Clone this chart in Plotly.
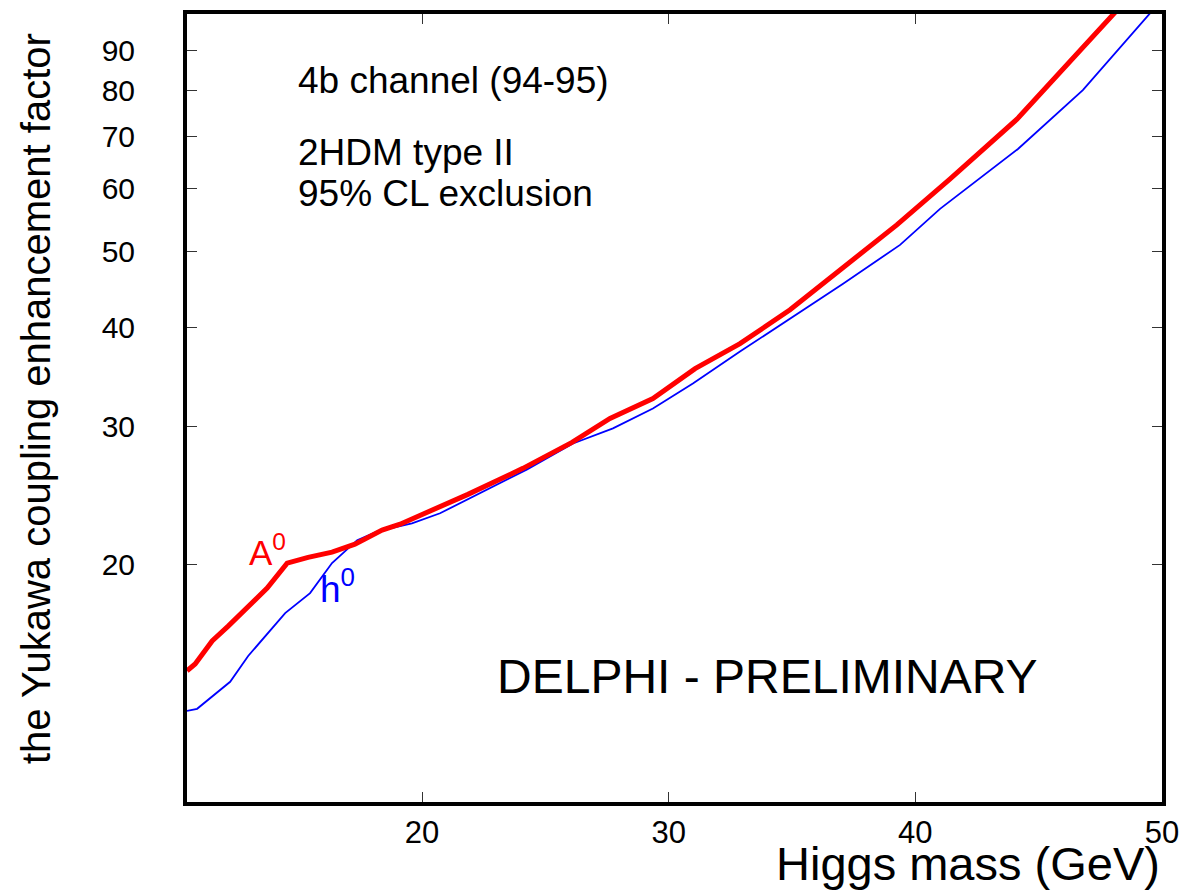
import math
import plotly.graph_objects as go

# A0 limit (red, thick)
a0_mass = [10.47, 10.80, 11.49, 12.14, 13.72, 14.53, 15.38, 16.35, 17.28, 18.38, 19.11,
           20.93, 21.86, 24.09, 26.08, 27.62, 29.36, 31.07, 32.89, 34.92, 37.07, 39.25,
           41.40, 44.12, 48.10]
a0_factor = [14.67, 14.97, 16.01, 16.72, 18.68, 20.10, 20.44, 20.75, 21.24, 22.13, 22.52,
             23.87, 24.57, 26.51, 28.60, 30.67, 32.51, 35.48, 38.16, 42.14, 47.77, 54.00,
             61.74, 73.53, 100.5]

# h0 limit (blue, thin)
h0_mass = [10.47, 10.88, 12.22, 12.95, 14.45, 15.46, 16.35, 17.37, 18.22, 19.59, 20.73,
           21.95, 24.26, 26.12, 27.74, 29.36, 30.98, 32.89, 34.92, 37.07, 39.38, 41.00,
           44.16, 46.79, 49.55]
h0_factor = [13.05, 13.13, 14.21, 15.32, 17.37, 18.41, 20.10, 21.49, 22.07, 22.58, 23.25,
             24.29, 26.43, 28.51, 29.79, 31.58, 33.96, 37.29, 41.05, 45.47, 50.93, 56.58,
             67.40, 80.07, 100.5]

x_ticks = [20, 30, 40, 50]
y_ticks = [20, 30, 40, 50, 60, 70, 80, 90]

FONT = "Liberation Sans, Arial, Helvetica, sans-serif"

fig = go.Figure()
fig.add_trace(go.Scatter(x=h0_mass, y=h0_factor, mode="lines",
                         line=dict(color="#0000ff", width=1.8), showlegend=False))
fig.add_trace(go.Scatter(x=a0_mass, y=a0_factor, mode="lines",
                         line=dict(color="#ff0000", width=5), showlegend=False))

ann = [
    dict(x=14.90, y=82.4, text="4b channel (94-95)", font=dict(size=37, color="black", family=FONT)),
    dict(x=14.90, y=66.8, text="2HDM type II", font=dict(size=37, color="black", family=FONT)),
    dict(x=14.90, y=59.1, text="95% CL exclusion", font=dict(size=37, color="black", family=FONT)),
    dict(x=22.95, y=14.45, text="DELPHI - PRELIMINARY", font=dict(size=48, color="black", family=FONT)),
    dict(x=12.90, y=20.9, text="A<sup>0</sup>", font=dict(size=35, color="#ff0000", family=FONT)),
    dict(x=15.80, y=18.75, text="h<sup>0</sup>", font=dict(size=37, color="#0000ff", family=FONT)),
]
annotations = [dict(a, y=math.log10(a["y"]), xref="x", yref="y", xanchor="left", yanchor="middle",
                    showarrow=False) for a in ann]
annotations.append(dict(xref="paper", yref="paper", x=1.0, y=0, yshift=-33, xanchor="right", yanchor="top",
                        text="Higgs mass (GeV)", showarrow=False,
                        font=dict(size=47, color="black", family=FONT)))
annotations.append(dict(xref="paper", yref="paper", x=(36 - 187) / 975, y=(802 - 397) / 792,
                        xanchor="center", yanchor="middle", textangle=-90,
                        text="the Yukawa coupling enhancement factor", showarrow=False,
                        font=dict(size=40, color="black", family=FONT)))

fig.update_layout(
    width=1181, height=885,
    margin=dict(l=179, r=27, t=2, b=91),
    paper_bgcolor="white", plot_bgcolor="white",
    annotations=annotations,
    xaxis=dict(range=[10.47, 50], tickvals=x_ticks, ticktext=[str(v) for v in x_ticks],
               showgrid=False, zeroline=False, showline=True, linecolor="black", linewidth=4,
               mirror="ticks", ticks="inside", ticklen=10, tickwidth=1, tickcolor="#333",
               tickfont=dict(size=31, color="black", family=FONT)),
    yaxis=dict(type="log", range=[1.0, 2.0], tickvals=y_ticks, ticktext=[str(v) for v in y_ticks],
               showgrid=False, zeroline=False, showline=True, linecolor="black", linewidth=4,
               mirror="ticks", ticks="inside", ticklen=10, tickwidth=1, tickcolor="#333",
               ticklabelstandoff=42,
               tickfont=dict(size=30, color="black", family=FONT)),
)

fig.write_html("out.html")
